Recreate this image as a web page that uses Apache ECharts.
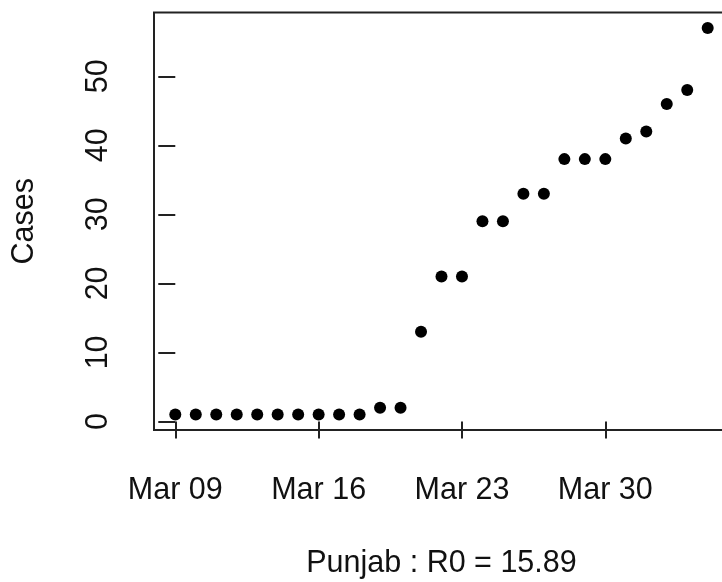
<!DOCTYPE html>
<html>
<head>
<meta charset="utf-8">
<script src="https://cdn.jsdelivr.net/npm/echarts@6/dist/echarts.min.js"></script>
<style>
  html, body { margin: 0; padding: 0; background: #fff; }
  #main { width: 722px; height: 582px; }
</style>
</head>
<body>
<div id="main"></div>
<script>
var dates = ['2020-03-09', '2020-03-10', '2020-03-11', '2020-03-12', '2020-03-13',
             '2020-03-14', '2020-03-15', '2020-03-16', '2020-03-17', '2020-03-18',
             '2020-03-19', '2020-03-20', '2020-03-21', '2020-03-22', '2020-03-23',
             '2020-03-24', '2020-03-25', '2020-03-26', '2020-03-27', '2020-03-28',
             '2020-03-29', '2020-03-30', '2020-03-31', '2020-04-01', '2020-04-02',
             '2020-04-03', '2020-04-04'];
var cases = [1, 1, 1, 1, 1, 1, 1, 1, 1, 1,
             2, 2, 13, 21, 21, 29, 29, 33, 33, 38,
             38, 38, 41, 42, 46, 48, 57];
var xTickDays = [0, 7, 14, 21];
var xTickLabels = ['Mar 09', 'Mar 16', 'Mar 23', 'Mar 30'];
var yTicks = [0, 10, 20, 30, 40, 50];

var DAY = 86400000;
var t0 = Date.parse(dates[0]);
var points = dates.map(function (d, i) {
    return [(Date.parse(d) - t0) / DAY, cases[i]];
});

var font = 'Liberation Sans, Arial, sans-serif';
var ink = '#111';
var fs = 30.5;

var chart = echarts.init(document.getElementById('main'));
var option = {
    animation: false,
    backgroundColor: '#fff',
    grid: {
        left: 154,
        top: 12.5,
        right: -7,
        bottom: 152,
        show: true,
        borderColor: '#222',
        borderWidth: 2,
        backgroundColor: 'transparent',
        containLabel: false,
        outerBoundsMode: 'none'
    },
    xAxis: {
        type: 'value',
        min: -1.04,
        max: 27.04,
        name: 'Punjab : R0 = 15.89',
        nameLocation: 'middle',
        nameGap: 118,
        nameTextStyle: { fontFamily: font, fontSize: fs, color: ink },
        axisLine: { show: false },
        splitLine: { show: false },
        axisTick: {
            show: true,
            inside: false,
            length: 17,
            customValues: xTickDays,
            lineStyle: { color: '#222', width: 2 }
        },
        axisLabel: {
            customValues: xTickDays,
            margin: 45,
            fontFamily: font,
            fontSize: fs,
            color: ink,
            formatter: function (v) {
                return xTickLabels[xTickDays.indexOf(v)];
            }
        }
    },
    yAxis: {
        type: 'value',
        min: -1.24,
        max: 59.24,
        name: 'Cases',
        nameLocation: 'middle',
        nameGap: 114,
        nameTextStyle: { fontFamily: font, fontSize: fs, color: ink },
        axisLine: { show: false },
        splitLine: { show: false },
        axisTick: {
            show: true,
            inside: false,
            length: 17,
            customValues: yTicks,
            lineStyle: { color: '#222', width: 2 }
        },
        axisLabel: {
            customValues: yTicks,
            rotate: 90,
            margin: 40,
            fontFamily: font,
            fontSize: fs,
            color: ink
        }
    },
    series: [{
        type: 'scatter',
        data: points,
        symbol: 'circle',
        symbolSize: 12,
        itemStyle: { color: '#000', opacity: 1 }
    }]
};
chart.setOption(option);
</script>
</body>
</html>
